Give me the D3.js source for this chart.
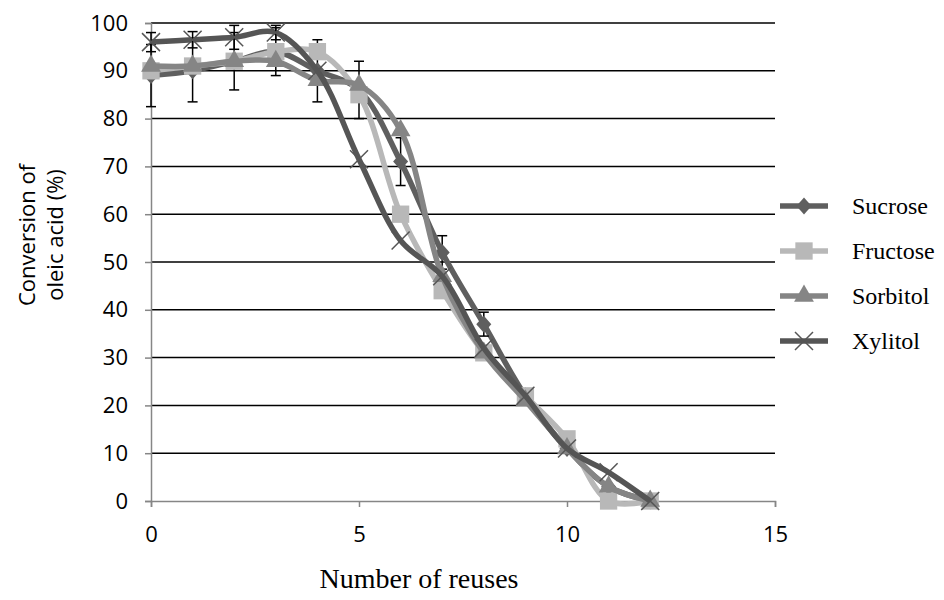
<!DOCTYPE html>
<html>
<head>
<meta charset="utf-8">
<script src="https://cdn.jsdelivr.net/npm/d3@7"></script>
<style>
  body { margin: 0; background: #fff; }
  .tick text { font-family: "Open Sans", sans-serif; font-size: 22px; fill: #000; }
  .serif { font-family: "Liberation Serif", "Times New Roman", serif; }
</style>
</head>
<body>
<svg id="chart" width="944" height="600"></svg>
<script>
// Number of reuses and conversion of oleic acid (%) per sugar
const reuses = [0, 1, 2, 3, 4, 5, 6, 7, 8, 9, 10, 11, 12];
const sucrose = [89, 90, 92, 94, 90, 86, 71, 52, 37, 22, 11, 3, 0];
const fructose = [90, 91, 92, 94, 94, 85, 60, 44, 31, 22, 13, 0, 0];
const sorbitol = [91, 91, 92, 92, 88, 87, 77.5, 47, 31, 21, 11, 3, 0];
const xylitol = [96, 96.5, 97, 98, 90, 71.5, 54.5, 47, 32, 22, 11, 6, 0];
// error bars (± value), 0 = none
const sucroseErr = [6.5, 6.5, 6, 5, 6.5, 6, 5, 3.5, 2.5, 0, 0, 0, 0];
const xylitolErr = [2, 1.7, 2.5, 1.5, 0, 0, 0, 0, 0, 0, 0, 0, 0];
const xTicks = [0, 5, 10, 15];
const yTicks = [0, 10, 20, 30, 40, 50, 60, 70, 80, 90, 100];

const width = 944;
const height = 600;
const margin = {top: 23, right: 169, bottom: 99, left: 151};

const svg = d3.select('#chart');

const x = d3.scaleLinear().domain([0, 15]).range([margin.left, width - margin.right]);
const y = d3.scaleLinear().domain([0, 100]).range([height - margin.bottom, margin.top]);

const series = [
  {name: 'Sucrose', values: sucrose, err: sucroseErr, color: '#5f5f5f', marker: 'diamond'},
  {name: 'Fructose', values: fructose, err: null, color: '#b8b8b8', marker: 'square'},
  {name: 'Sorbitol', values: sorbitol, err: null, color: '#858585', marker: 'triangle'},
  {name: 'Xylitol', values: xylitol, err: xylitolErr, color: '#555555', marker: 'x'}
];

// gridlines
svg.append('g')
  .selectAll('line')
  .data(yTicks.filter((d) => d > 0))
  .enter()
  .append('line')
  .attr('x1', x(0))
  .attr('x2', x(15))
  .attr('y1', (d) => y(d))
  .attr('y2', (d) => y(d))
  .attr('stroke', '#000')
  .attr('stroke-width', 1.5);

// axes
const yAxis = svg.append('g')
  .attr('transform', `translate(${x(0)},0)`)
  .call(d3.axisLeft(y).tickValues(yTicks).tickSize(6).tickPadding(17));
const xAxis = svg.append('g')
  .attr('transform', `translate(0,${y(0)})`)
  .call(d3.axisBottom(x).tickValues(xTicks).tickSize(6).tickPadding(19));
[yAxis, xAxis].forEach((a) => {
  a.select('.domain').attr('stroke', '#868686').attr('stroke-width', 1.5);
  a.selectAll('.tick line').attr('stroke', '#868686').attr('stroke-width', 1.5);
});

const markerPath = (type) => {
  if (type === 'diamond') return 'M0,-8.5L7.5,0L0,8.5L-7.5,0Z';
  if (type === 'square') return d3.symbol(d3.symbolSquare, 300)();
  if (type === 'triangle') return d3.symbol(d3.symbolTriangle, 170)();
  return 'M-9,-9L9,9M-9,9L9,-9';
};

const line = d3.line()
  .x((d) => x(d[0]))
  .y((d) => y(d[1]))
  .curve(d3.curveCatmullRom);

series.forEach((s) => {
  const pts = reuses.map((r, i) => [r, s.values[i]]);
  const g = svg.append('g');
  g.append('path')
    .attr('d', line(pts))
    .attr('fill', 'none')
    .attr('stroke', s.color)
    .attr('stroke-width', 5.5)
    .attr('stroke-linejoin', 'round');

  if (s.err) {
    const eb = g.selectAll('g.err')
      .data(reuses.map((r, i) => ({r: r, v: s.values[i], e: s.err[i]})).filter((d) => d.e > 0))
      .enter()
      .append('g')
      .attr('stroke', '#000')
      .attr('stroke-width', 1.5);
    eb.append('line')
      .attr('x1', (d) => x(d.r)).attr('x2', (d) => x(d.r))
      .attr('y1', (d) => y(d.v - d.e)).attr('y2', (d) => y(d.v + d.e));
    eb.append('line')
      .attr('x1', (d) => x(d.r) - 5).attr('x2', (d) => x(d.r) + 5)
      .attr('y1', (d) => y(d.v - d.e)).attr('y2', (d) => y(d.v - d.e));
    eb.append('line')
      .attr('x1', (d) => x(d.r) - 5).attr('x2', (d) => x(d.r) + 5)
      .attr('y1', (d) => y(d.v + d.e)).attr('y2', (d) => y(d.v + d.e));
  }

  g.selectAll('path.mk')
    .data(pts)
    .enter()
    .append('path')
    .attr('class', 'mk')
    .attr('transform', (d) => `translate(${x(d[0])},${y(d[1])})`)
    .attr('d', markerPath(s.marker))
    .attr('fill', s.marker === 'x' ? 'none' : s.color)
    .attr('stroke', s.marker === 'x' ? s.color : 'none')
    .attr('stroke-width', 1.5);
});

// legend
const legend = svg.append('g');
const legY = (i) => 206 + i * 45;
series.forEach((s, i) => {
  legend.append('line')
    .attr('x1', 780).attr('x2', 828)
    .attr('y1', legY(i)).attr('y2', legY(i))
    .attr('stroke', s.color).attr('stroke-width', 5.5);
  legend.append('path')
    .attr('transform', `translate(804,${legY(i)})`)
    .attr('d', markerPath(s.marker))
    .attr('fill', s.marker === 'x' ? 'none' : s.color)
    .attr('stroke', s.marker === 'x' ? s.color : 'none')
    .attr('stroke-width', 1.5);
  legend.append('text')
    .attr('class', 'serif')
    .attr('x', 852)
    .attr('y', legY(i) + 8)
    .attr('font-size', 24)
    .text(s.name);
});

// axis titles
svg.append('text')
  .attr('class', 'serif')
  .attr('x', 419)
  .attr('y', 588)
  .attr('text-anchor', 'middle')
  .attr('font-size', 28)
  .text('Number of reuses');

const yTitle = svg.append('text')
  .attr('transform', 'translate(0,235) rotate(-90)')
  .attr('text-anchor', 'middle')
  .attr('font-family', '"Open Sans", sans-serif')
  .attr('font-size', 22);
yTitle.append('tspan').attr('x', 0).attr('y', 35).text('Conversion of');
yTitle.append('tspan').attr('x', 0).attr('y', 63).text('oleic acid (%)');
</script>
</body>
</html>
